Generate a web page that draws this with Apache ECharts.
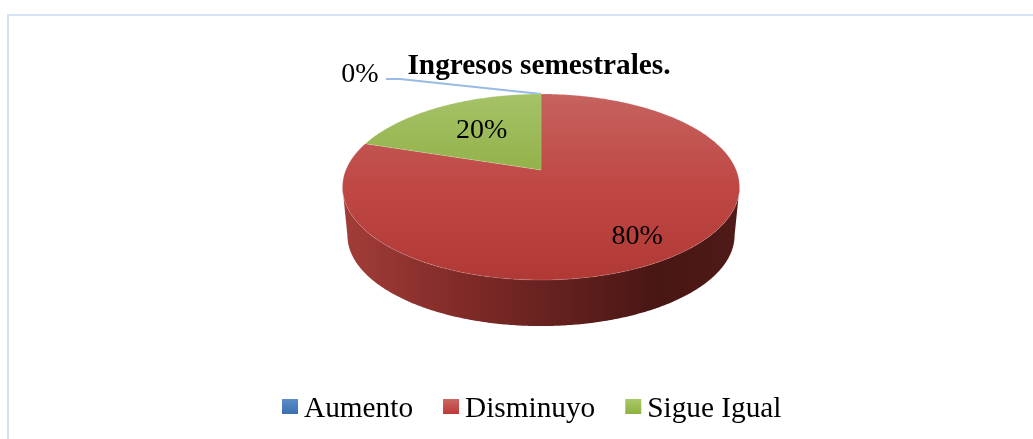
<!DOCTYPE html>
<html><head><meta charset="utf-8">
<style>html,body{margin:0;padding:0;background:#fff}#c{width:1033px;height:439px}</style>
<script src="https://cdn.jsdelivr.net/npm/echarts@6/dist/echarts.min.js"></script>
</head><body><div id="c"></div>
<script>
const categories = ['Aumento', 'Disminuyo', 'Sigue Igual'];
const values = [0, 80, 20];
const titleText = 'Ingresos semestrales.';

const FONT = '"Liberation Serif","Times New Roman",serif';
const CX = 541, APEX_Y = 170, A = 195.2, B = 89.9, K = 0.1828;
const WALL_SCALE = 0.975, WALL_Y = 218.8;
const total = values.reduce((a, b) => a + b, 0);

function project(theta, f, wall) {
  const u = Math.sin(theta) * f, v = -Math.cos(theta) * f, d = 1 - K * v;
  const s = wall ? WALL_SCALE : 1, y0 = wall ? WALL_Y : APEX_Y;
  return [CX + s * A * u / d, y0 + s * B * v / d];
}
function rimPoints(a, b, wall) {
  const n = Math.max(2, Math.ceil(Math.abs(b - a) / 0.01)), pts = [];
  for (let i = 0; i <= n; i++) pts.push(project(a + (b - a) * i / n, 1, wall));
  return pts;
}
const globalGrad = (x, y, x2, y2, stops) => ({
  type: 'linear', x, y, x2, y2, global: true,
  colorStops: stops.map(s => ({ offset: s[0], color: s[1] }))
});
const topFills = [
  globalGrad(0, 94, 0, 280, [[0, '#6b93cc'], [1, '#3a6fb0']]),
  globalGrad(0, 94, 0, 280, [[0, '#c6625f'], [0.5, '#bf4744'], [1, '#b03835']]),
  globalGrad(0, 94, 0, 280, [[0, '#a5c367'], [0.41, '#93b24a'], [1, '#86a53c']])
];
const legendStop = 15 / 21;
const legendFills = [
  { type: 'linear', x: 0, y: 0, x2: 0, y2: 1, colorStops: [{ offset: 0, color: '#5b8ccb' }, { offset: legendStop, color: '#3a6fb0' }, { offset: 1, color: '#3a6fb0' }] },
  { type: 'linear', x: 0, y: 0, x2: 0, y2: 1, colorStops: [{ offset: 0, color: '#ca6764' }, { offset: legendStop, color: '#bd3a37' }, { offset: 1, color: '#bd3a37' }] },
  { type: 'linear', x: 0, y: 0, x2: 0, y2: 1, colorStops: [{ offset: 0, color: '#a9c96a' }, { offset: legendStop, color: '#8fb040' }, { offset: 1, color: '#8fb040' }] }
];
const wallFill = globalGrad(350, 0, 735, 0, [[0, '#a03c38'], [0.3, '#7f2a27'], [0.55, '#63201e'], [0.8, '#481614'], [1, '#4f1a17']]);
const labelRadius = [null, 0.78, 0.55];
const labelNudge = [[0, 2], [-5, 2.5], [-1, -2]];

function sliceRender(index) {
  return function () {
    const start = values.slice(0, index).reduce((a, b) => a + b, 0) / total * 2 * Math.PI;
    const end = start + values[index] / total * 2 * Math.PI;
    const children = [];
    const vis0 = Math.PI / 2 + Math.asin(K), vis1 = 2 * Math.PI - vis0;
    const a0 = Math.max(start, vis0), b0 = Math.min(end, vis1);
    if (values[index] > 0 && b0 > a0) {
      const up = rimPoints(a0, b0, false), down = rimPoints(b0, a0, true);
      children.push({ type: 'polygon', shape: { points: up.concat(down) }, style: { fill: wallFill }, z2: 1 });
    }
    if (values[index] > 0) {
      const pts = [project(0, 0, false)].concat(rimPoints(start, end, false));
      children.push({ type: 'polygon', shape: { points: pts }, style: { fill: topFills[index], stroke: 'rgba(255,255,255,0.25)', lineWidth: 0.6 }, z2: 2 });
    }
    const mid = (start + end) / 2;
    let lp;
    if (labelRadius[index] !== null) {
      lp = project(mid, labelRadius[index], false);
    } else {
      const rim = project(mid, 1, false);
      lp = [rim[0] - 181, rim[1] - 21];
      children.push({ type: 'polyline', shape: { points: [[lp[0] + 26, lp[1] + 6], [lp[0] + 40, lp[1] + 6], rim] },
        style: { stroke: '#97bbe5', lineWidth: 2, fill: null }, z2: 3 });
    }
    children.push({ type: 'text', x: lp[0] + labelNudge[index][0], y: lp[1] + labelNudge[index][1], z2: 4,
      style: { text: values[index] + '%', font: '28px ' + FONT, fill: '#000', align: 'center', verticalAlign: 'middle' } });
    return { type: 'group', children };
  };
}

const chart = echarts.init(document.getElementById('c'), null, { renderer: 'canvas' });
chart.setOption({
  animation: false,
  backgroundColor: '#fff',
  title: { text: titleText, left: 534, top: 47, textAlign: 'center',
    textStyle: { fontFamily: FONT, fontSize: 29.3, fontWeight: 'bold', color: '#000' } },
  legend: { data: categories, left: 277, top: 390, icon: 'path://M0,0H16V15H0Z M0,21L0,21', itemWidth: 16, itemHeight: 21, itemGap: 30,
    textStyle: { fontFamily: FONT, fontSize: 29.3, color: '#000', padding: [0, 0, 0, 1] } },
  graphic: [{ type: 'polyline', silent: true, z: -1,
    shape: { points: [[8, 439], [8, 15], [1033, 15]] },
    style: { stroke: '#d6e3f5', lineWidth: 2, fill: null } }],
  series: categories.map((name, i) => ({
    type: 'custom', name, coordinateSystem: 'none', data: [values[i]],
    itemStyle: { color: legendFills[i] }, renderItem: sliceRender(i), silent: true, z: i === 2 ? 3 : 2
  }))
});
</script></body></html>
